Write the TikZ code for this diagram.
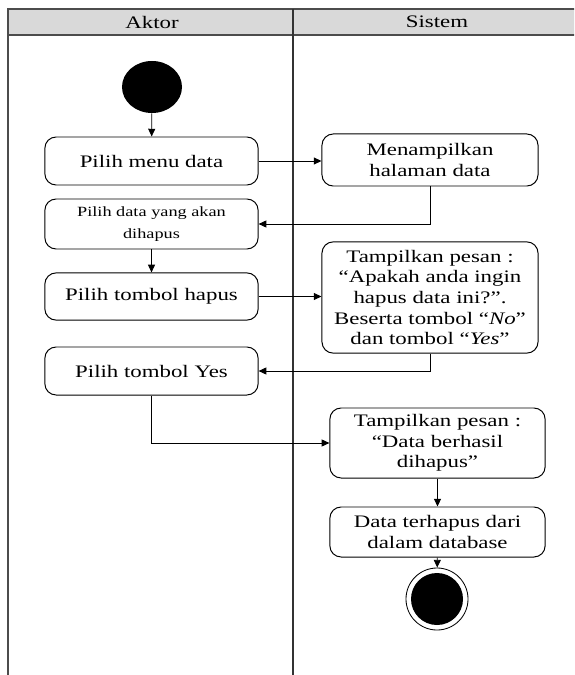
\documentclass[tikz,border=0pt]{standalone}
\usepackage{fontspec}
\setmainfont{Liberation Serif}[FakeStretch=1.3]
\usetikzlibrary{arrows.meta,shapes.geometric}
\begin{document}
\begin{tikzpicture}[x=0.025cm,y=-0.025cm]
    \tikzstyle{aksi} = [draw,line width=0.7pt,rounded corners=0.28cm,align=center,inner sep=0pt,
        minimum width=5.33cm,font=\fontsize{12.5}{14.6}\selectfont]
    \tikzstyle{alur} = [line width=0.6pt,-{Triangle[length=5.5pt,width=5pt]}]
    \useasboundingbox (0,0) rectangle (574,675);
    \clip (0,0) rectangle (574,675);
        \fill[gray!30] (8,9) rectangle (590,35);
        \draw[line width=1pt,black!70] (8,9) rectangle (590,700);
        \draw[line width=1pt,black!70] (8,35) -- (590,35);
        \draw[line width=1.2pt,black!80] (293,9) -- (293,700);
        \node[font=\fontsize{12.5}{14.6}\selectfont] (aktor) at (152,22) {Aktor};
        \node[font=\fontsize{12.5}{14.6}\selectfont] (sistem) at (437,22) {Sistem};
        \node[ellipse,fill=black,minimum width=1.5cm,minimum height=1.3cm,inner sep=0pt] (mulai) at (152,87) {};
        \node[aksi,minimum height=1.2cm] (menu) at (151.5,161) {Pilih menu data};
        \node[aksi,minimum width=5.4cm,minimum height=1.3cm] (tampil) at (430,160) {Menampilkan\\halaman data};
        \node[aksi,minimum height=1.25cm,font=\fontsize{10}{16}\selectfont] (pilihdata) at (151.5,224) {Pilih data yang akan\\dihapus};
        \node[aksi,minimum height=1.18cm] (hapus) at (151.5,296.5) {Pilih tombol hapus};
        \node[aksi,minimum width=5.4cm,minimum height=2.78cm] (konfirm) at (430,297.5)
            {Tampilkan pesan :\\“Apakah anda ingin\\hapus data ini?”.\\Beserta tombol “\textit{No}”\\dan tombol “\textit{Yes}”};
        \node[aksi,minimum height=1.2cm] (yes) at (151.5,371) {Pilih tombol Yes};
        \node[aksi,minimum width=5.38cm,minimum height=1.75cm] (berhasil) at (437.5,443)
            {Tampilkan pesan :\\“Data berhasil\\dihapus”};
        \node[aksi,minimum width=5.38cm,minimum height=1.25cm] (terhapus) at (437.5,532)
            {Data terhapus dari\\dalam database};
        \node[circle,draw,line width=0.6pt,minimum size=1.55cm,inner sep=0pt] (akhir) at (437,599) {};
        \node[circle,fill=black,minimum size=1.3cm,inner sep=0pt] (akhirdalam) at (437,599) {};
        \draw[alur] (mulai) -- (menu);
        \draw[alur] (menu.east) -- (menu.east -| tampil.west);
        \draw[alur] (tampil.south) |- (pilihdata.east);
        \draw[alur] (pilihdata) -- (hapus);
        \draw[alur] (hapus.east) -- (hapus.east -| konfirm.west);
        \draw[alur] (konfirm.south) |- (yes.east);
        \draw[alur] (yes.south) |- (berhasil.west);
        \draw[alur] (berhasil) -- (terhapus);
        \draw[alur] (terhapus) -- (akhir);
    \end{tikzpicture}
\end{document}
